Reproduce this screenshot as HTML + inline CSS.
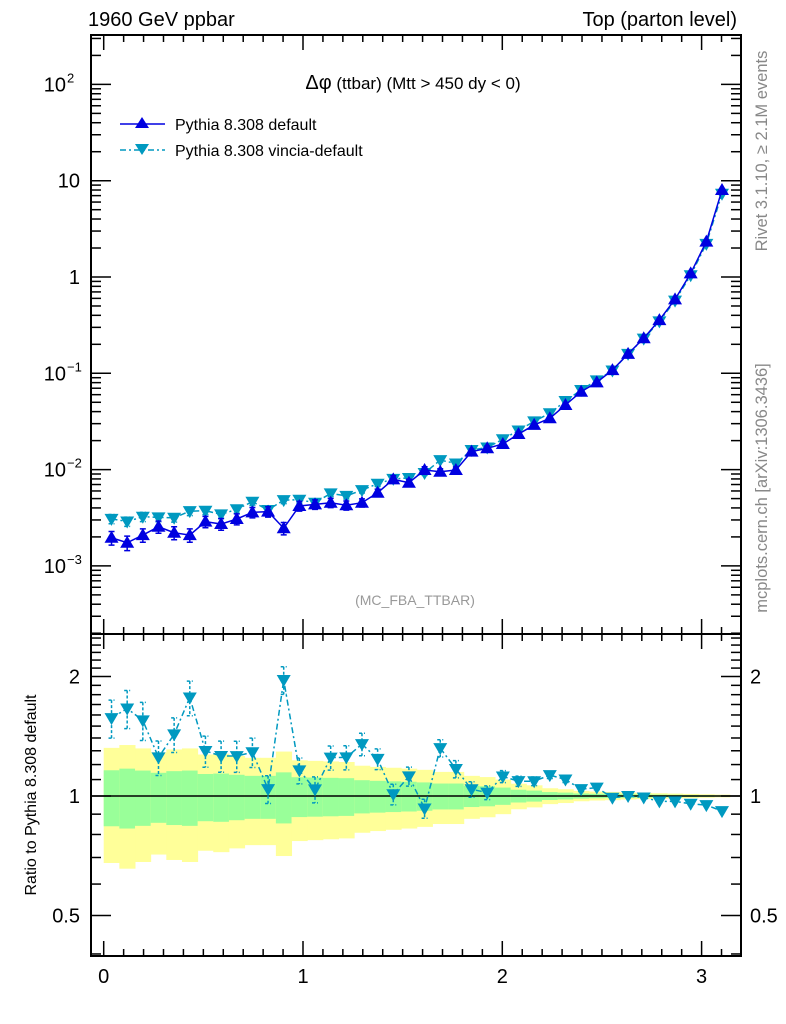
<!DOCTYPE html>
<html><head><meta charset="utf-8">
<style>
html,body{margin:0;padding:0;background:#fff;}
svg{display:block;font-family:"Liberation Sans",sans-serif;}
</style></head>
<body>
<svg id="chart" width="786" height="1024" viewBox="0 0 786 1024">
  <text x="88" y="26" font-size="20">1960 GeV ppbar</text>
  <text x="737" y="26" font-size="20" text-anchor="end">Top (parton level)</text>
  <text x="413" y="89" font-size="17" text-anchor="middle"><tspan font-size="20">Δφ</tspan> (ttbar) (Mtt &gt; 450 dy &lt; 0)</text>
  <text x="415" y="605" font-size="14" fill="#999" text-anchor="middle">(MC_FBA_TTBAR)</text>
  <text transform="translate(767,151) rotate(-90)" font-size="16.5" fill="#888" text-anchor="middle">Rivet 3.1.10, ≥ 2.1M events</text>
  <text transform="translate(767,488) rotate(-90)" font-size="16.5" fill="#888" text-anchor="middle">mcplots.cern.ch [arXiv:1306.3436]</text>
  <text transform="translate(36,795) rotate(-90)" font-size="16" text-anchor="middle">Ratio to Pythia 8.308 default</text>
  <g>
    <g>
      <line x1="120" y1="124" x2="165" y2="124" stroke="#0000e0" stroke-width="1.5"/>
      <polygon points="142,117 149,128 135,128" fill="#0000e0"/>
      <text x="175" y="130" font-size="16">Pythia 8.308 default</text>
    </g>
    <g>
      <line x1="120" y1="150" x2="165" y2="150" stroke="#0099c0" stroke-width="1.5" stroke-dasharray="6,3,2,3"/>
      <polygon points="135,144 149,144 142,155" fill="#0099c0"/>
      <text x="175" y="156" font-size="16">Pythia 8.308 vincia-default</text>
    </g>
  </g>
  <g id="layer"></g>
</svg>
<script>
const defaultValues=[1.96e-3,1.74e-3,2.09e-3,2.55e-3,2.21e-3,2.09e-3,2.88e-3,2.72e-3,3.07e-3,3.60e-3,3.66e-3,2.46e-3,4.19e-3,4.36e-3,4.53e-3,4.26e-3,4.53e-3,5.75e-3,7.92e-3,7.31e-3,9.9e-3,9.5e-3,9.9e-3,0.01535,0.01664,0.01845,0.0234,0.0291,0.0341,0.0469,0.0644,0.0805,0.108,0.159,0.231,0.357,0.586,1.09,2.33,8.0];
const vinciaValues=[3.08e-3,2.89e-3,3.24e-3,3.19e-3,3.16e-3,3.70e-3,3.74e-3,3.43e-3,3.87e-3,4.64e-3,3.81e-3,4.82e-3,4.86e-3,4.53e-3,5.66e-3,5.33e-3,6.12e-3,7.13e-3,8.0e-3,8.19e-3,9.21e-3,0.01254,0.01158,0.01596,0.01697,0.02066,0.0255,0.0317,0.0385,0.0516,0.0670,0.0845,0.1069,0.159,0.229,0.346,0.568,1.042,2.21,7.33];
const defaultRelErr=[0.161,0.172,0.159,0.144,0.155,0.159,0.136,0.139,0.131,0.124,0.124,0.147,0.115,0.113,0.111,0.109,0.096,0.092,0.089,0.086,0.082,0.075,0.075,0.062,0.058,0.05,0.037,0.032,0.023,0.02,0.015,0.013,0.012,0.01,0.009,0.008,0.007,0.006,0.005,0.004];
const vinciaRelErr=[0.11,0.11,0.11,0.1,0.1,0.1,0.09,0.09,0.09,0.085,0.08,0.08,0.075,0.075,0.07,0.07,0.065,0.06,0.06,0.055,0.055,0.05,0.05,0.045,0.04,0.035,0.03,0.025,0.02,0.017,0.014,0.012,0.01,0.009,0.008,0.007,0.006,0.005,0.004,0.003];
const xTickLabels=["0","1","2","3"];
const mainTickLabels=[{v:-3,t:"10",e:"−3"},{v:-2,t:"10",e:"−2"},{v:-1,t:"10",e:"−1"},{v:0,t:"1",e:""},{v:1,t:"10",e:""},{v:2,t:"10",e:"2"}];
const ratioTickLabels=[0.5,1,2];

const NS="http://www.w3.org/2000/svg";
const layer=document.getElementById('layer');
const L=91,R=741,MT=35,MB=634,RB=956;
const nb=defaultValues.length, bw=Math.PI/nb;
const X=v=>103.7+v*199.3;
const YM=v=>277-Math.log10(v)*96.3;
const YR=r=>796-Math.log2(r)*119.5;
function mk(tag,attrs,parent){const e=document.createElementNS(NS,tag);for(const k in attrs)e.setAttribute(k,attrs[k]);(parent||layer).appendChild(e);return e;}

const defs=mk('defs',{});
const c1=mk('clipPath',{id:'cm'},defs);mk('rect',{x:L,y:MT,width:R-L,height:MB-MT},c1);
const c2=mk('clipPath',{id:'cr'},defs);mk('rect',{x:L,y:MB,width:R-L,height:RB-MB},c2);

const bands=mk('g',{'clip-path':'url(#cr)'});


for(let i=0;i<nb;i++){
  const e=defaultRelErr[i],x0=X(i*bw),x1=X((i+1)*bw);
  const y=mk('rect',{x:x0,y:YR(1+2*e),width:x1-x0+0.5,height:YR(Math.max(1-2*e,0.05))-YR(1+2*e),fill:'#ffff99'},bands);
  
  
  const g=mk('rect',{x:x0,y:YR(1+e),width:x1-x0+0.5,height:YR(1-e)-YR(1+e),fill:'#99ff99'},bands);
  
  
}
mk('line',{x1:L,x2:R,y1:YR(1),y2:YR(1),stroke:'#000','stroke-width':1.5});

function series(vals,errs,yf,color,dash,up,clip,name){
  const g=mk('g',{'clip-path':'url(#'+clip+')'});
  
  
  const pts=vals.map((v,i)=>[X((i+0.5)*bw),yf(v)]);
  const pl=mk('polyline',{points:pts.map(p=>p.join(',')).join(' '),fill:'none',stroke:color,'stroke-width':1.5},g);
  if(dash)pl.setAttribute('stroke-dasharray',dash);
  vals.forEach((v,i)=>{
    const x=pts[i][0],y=pts[i][1];
    const yt=yf(v*(1+errs[i])),yb=yf(v*(1-errs[i]));
    const eb=mk('path',{d:`M${x},${yt}V${yb}M${x-3},${yt}H${x+3}M${x-3},${yb}H${x+3}`,stroke:color,'stroke-width':1.5,fill:'none'},g);
    if(dash)eb.setAttribute('stroke-dasharray','3,2');
    const p=up?`${x},${y-7} ${x+7},${y+5} ${x-7},${y+5}`:`${x-7},${y-5} ${x+7},${y-5} ${x},${y+7}`;
    const m=mk('polygon',{points:p,fill:color},g);
    
    
  });
}
series(vinciaValues,vinciaRelErr,YM,'#0099c0','6,3,2,3',false,'cm','vincia-series');
series(defaultValues,defaultRelErr,YM,'#0000e0',null,true,'cm','default-series');
const ratios=vinciaValues.map((v,i)=>v/defaultValues[i]);
series(ratios,vinciaRelErr,YR,'#0099c0','6,3,2,3',false,'cr','ratio-vincia-series');

const fr=mk('g',{fill:'none',stroke:'#000','stroke-width':2});


mk('rect',{x:L,y:MT,width:R-L,height:MB-MT},fr);
mk('rect',{x:L,y:MB,width:R-L,height:RB-MB},fr);

const tk=mk('g',{stroke:'#000','stroke-width':1.5});
for(let k=0;k<=31;k++){
  const v=k*0.1,x=X(v),maj=(k%10===0),len=maj?15:7;
  mk('line',{x1:x,x2:x,y1:RB,y2:RB-len},tk);
  mk('line',{x1:x,x2:x,y1:MB,y2:MB+len},tk);
  mk('line',{x1:x,x2:x,y1:MB,y2:MB-len},tk);
  mk('line',{x1:x,x2:x,y1:MT,y2:MT+len},tk);
}
xTickLabels.forEach(t=>{
  const e=mk('text',{x:X(+t),y:983,'font-size':20,'text-anchor':'middle'});e.textContent=t;
  
  
});
for(let d=-4;d<=2;d++){
  for(let m=1;m<10;m++){
    const v=m*Math.pow(10,d),y=YM(v);if(y<MT||y>MB)continue;
    const len=m===1?20:10;
    mk('line',{x1:L,x2:L+len,y1:y,y2:y},tk);
    mk('line',{x1:R,x2:R-len,y1:y,y2:y},tk);
  }
}
mainTickLabels.forEach(o=>{
  const y=YM(Math.pow(10,o.v));
  const e=mk('text',{x:o.e?66:80,y:y+7,'font-size':20,'text-anchor':'end'});e.textContent=o.t;
  
  
  if(o.e){const s=mk('text',{x:67,y:y-2,'font-size':13});s.textContent=o.e;}
});
[0.4,0.5,0.6,0.7,0.8,0.9,1,1.1,1.2,1.3,1.4,1.5,1.6,1.7,1.8,1.9,2,2.1,2.2,2.3,2.4,2.5].forEach(v=>{
  const y=YR(v);if(y<MB||y>RB)return;
  const len=(v===0.5||v===1||v===2)?20:10;
  mk('line',{x1:L,x2:L+len,y1:y,y2:y},tk);
  mk('line',{x1:R,x2:R-len,y1:y,y2:y},tk);
});
ratioTickLabels.forEach(v=>{
  const y=YR(v);
  const a=mk('text',{x:80,y:y+7,'font-size':20,'text-anchor':'end'});a.textContent=String(v);
  
  
  const b=mk('text',{x:750,y:y+7,'font-size':20});b.textContent=String(v);
  
  
});
</script>
</body></html>
